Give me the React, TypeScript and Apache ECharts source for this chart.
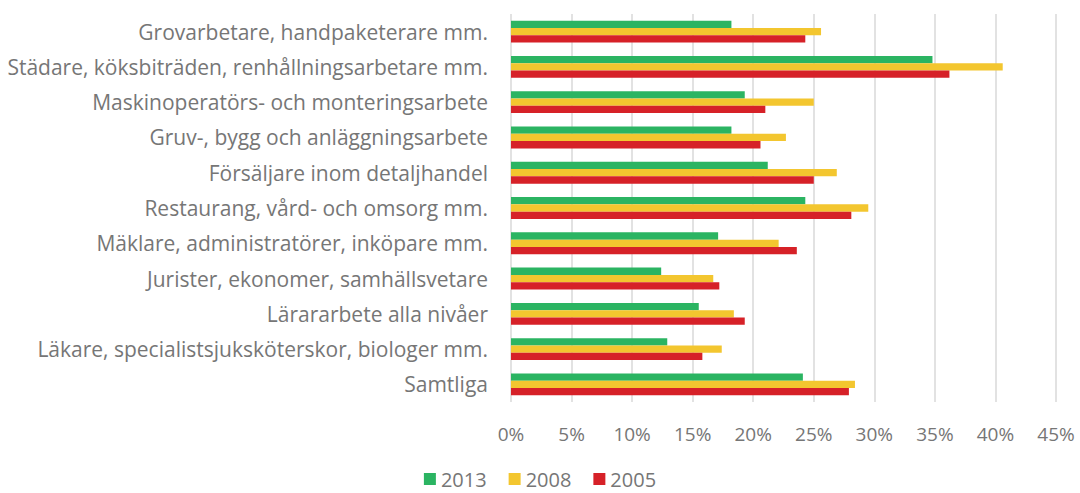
import React, { useEffect, useRef } from "react";
import * as echarts from "echarts";

const categories = [
  "Grovarbetare, handpaketerare mm.",
  "Städare, köksbiträden, renhållningsarbetare mm.",
  "Maskinoperatörs- och monteringsarbete",
  "Gruv-, bygg och anläggningsarbete",
  "Försäljare inom detaljhandel",
  "Restaurang, vård- och omsorg mm.",
  "Mäklare, administratörer, inköpare mm.",
  "Jurister, ekonomer, samhällsvetare",
  "Lärararbete alla nivåer",
  "Läkare, specialistsjuksköterskor, biologer mm.",
  "Samtliga",
];

const values2013 = [18.2, 34.8, 19.3, 18.2, 21.2, 24.3, 17.1, 12.4, 15.5, 12.9, 24.1];
const values2008 = [25.6, 40.6, 25.0, 22.7, 26.9, 29.5, 22.1, 16.7, 18.4, 17.4, 28.4];
const values2005 = [24.3, 36.2, 21.0, 20.6, 25.0, 28.1, 23.6, 17.2, 19.3, 15.8, 27.9];

const xTicks = { min: 0, max: 45, interval: 5 };

const FONT = "Open Sans";
const TEXT = "#767676";

export default function App() {
  const ref = useRef<HTMLDivElement>(null);
  useEffect(() => {
    if (!ref.current) return;
    const chart = echarts.init(ref.current, undefined, { renderer: "svg" });
    const barStyle = (color: string) => ({
      type: "bar" as const,
      barGap: "0%",
      barCategoryGap: "38%",
      itemStyle: { color },
    });
    chart.setOption({
      animation: false,
      textStyle: { fontFamily: FONT },
      grid: { left: 511, right: 24, top: 14, bottom: 91, containLabel: false },
      legend: {
        bottom: 3,
        left: "center",
        padding: 0,
        itemWidth: 12,
        itemHeight: 12,
        itemGap: 22,
        icon: "rect",
        textStyle: { fontSize: 20, lineHeight: 22, color: TEXT, fontFamily: FONT },
        data: ["2013", "2008", "2005"],
      },
      xAxis: {
        type: "value",
        min: xTicks.min,
        max: xTicks.max,
        interval: xTicks.interval,
        axisLabel: {
          formatter: "{value}%",
          fontSize: 19,
          color: TEXT,
          margin: 22,
          fontFamily: FONT,
        },
        splitLine: { show: true, lineStyle: { color: "#d9d9d9", width: 1.5 } },
        axisLine: { show: false },
        axisTick: { show: false },
      },
      yAxis: {
        type: "category",
        inverse: true,
        data: categories,
        axisLabel: { fontSize: 21, color: TEXT, margin: 23, fontFamily: FONT },
        axisLine: { show: false },
        axisTick: { show: false },
      },
      series: [
        { name: "2013", data: values2013, ...barStyle("#2bb462") },
        { name: "2008", data: values2008, ...barStyle("#f3c62f") },
        { name: "2005", data: values2005, ...barStyle("#d62128") },
      ],
    });
    return () => chart.dispose();
  }, []);
  return (
    <div
      ref={ref}
      style={{ position: "absolute", left: 0, top: 0, width: 1080, height: 493 }}
    />
  );
}
